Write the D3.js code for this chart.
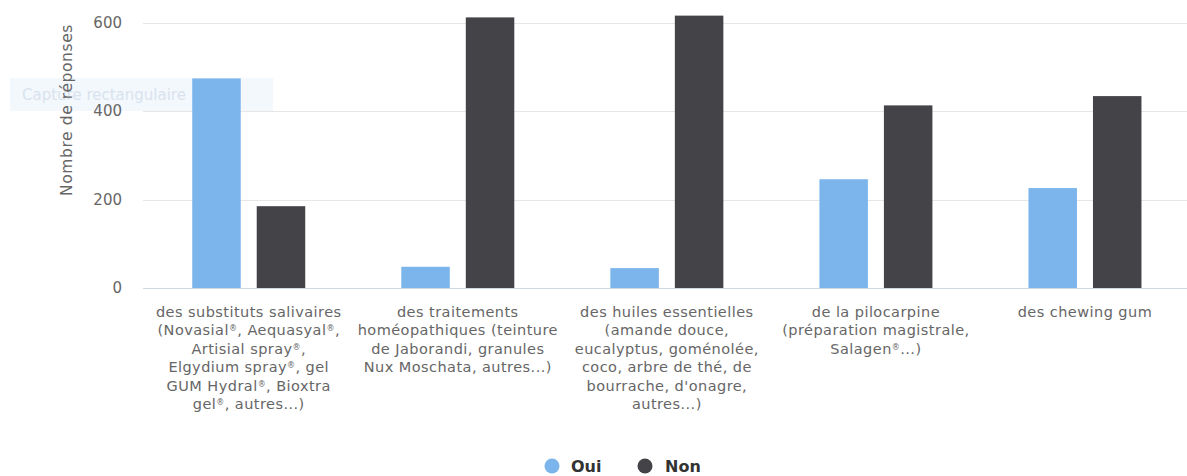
<!DOCTYPE html>
<meta charset="utf-8">
<script src="https://d3js.org/d3.v7.min.js"></script>
<style>
  body { margin: 0; background: #fff; }
  svg { font-family: "DejaVu Sans", Verdana, sans-serif; }
</style>
<div id="chart"></div>
<script>
// data
const categories = ["substituts", "homeo", "huiles", "pilocarpine", "chewing"];
const categoryLines = [
  ["des substituts salivaires", "(Novasial®, Aequasyal®,", "Artisial spray®,", "Elgydium spray®, gel", "GUM Hydral®, Bioxtra", "gel®, autres...)"],
  ["des traitements", "homéopathiques (teinture", "de Jaborandi, granules", "Nux Moschata, autres...)"],
  ["des huiles essentielles", "(amande douce,", "eucalyptus, goménolée,", "coco, arbre de thé, de", "bourrache, d'onagre,", "autres...)"],
  ["de la pilocarpine", "(préparation magistrale,", "Salagen®...)"],
  ["des chewing gum"]
];
const seriesNames = ["Oui", "Non"];
const seriesColors = ["#7cb5ec", "#434348"];
const ouiValues = [474, 48, 45, 246, 226];
const nonValues = [185, 612, 616, 413, 434];
const yTicks = [0, 200, 400, 600];
const yTitle = "Nombre de réponses";

const W = 1187, H = 476;
const LINE_H = 18.4; // spacing of wrapped category label lines

const svg = d3.select("#chart").append("svg")
  .attr("width", W)
  .attr("height", H);

const x0 = d3.scaleBand()
  .domain(categories)
  .range([144.2, 1189.5])
  .padding(0);

const bw = x0.bandwidth();
const x1 = d3.scaleBand()
  .domain(seriesNames)
  .range([bw / 2 - 56.5, bw / 2 + 56.5])
  .paddingInner(0.248);

const y = d3.scaleLinear()
  .domain([0, 600])
  .range([288, 22.7]);

// faint screenshot overlay left in the picture (sits behind the bars)
svg.append("rect")
  .attr("x", 10).attr("y", 78)
  .attr("width", 263).attr("height", 33)
  .attr("fill", "#f3f8fd");

svg.append("text")
  .attr("x", 22).attr("y", 100)
  .attr("fill", "#d9e3ed")
  .style("font-size", "15px")
  .text("Capture rectangulaire");

// gridlines
svg.append("g").selectAll("line")
  .data(yTicks.filter(d => d > 0))
  .enter().append("line")
  .attr("x1", 143).attr("x2", W)
  .attr("y1", d => Math.round(y(d)) + 0.5)
  .attr("y2", d => Math.round(y(d)) + 0.5)
  .attr("stroke", "#e6e6e6");

// y tick labels
svg.append("g").selectAll("text")
  .data(yTicks)
  .enter().append("text")
  .attr("x", 122)
  .attr("y", d => y(d) + 5)
  .attr("text-anchor", "end")
  .attr("fill", "#666")
  .style("font-size", "15px")
  .text(d => d);

// y title
svg.append("text")
  .attr("transform", "translate(72," + 110 + ")rotate(-90)")
  .attr("text-anchor", "middle")
  .attr("fill", "#666")
  .style("font-size", "15.5px")
  .style("letter-spacing", "0.6px")
  .text(yTitle);

// bars
const rows = categories.map((c, i) => ({ cat: c, vals: [ouiValues[i], nonValues[i]] }));

const groups = svg.append("g").selectAll("g")
  .data(rows)
  .enter().append("g")
  .attr("transform", d => "translate(" + x0(d.cat) + ",0)");

groups.selectAll("rect")
  .data(d => d.vals.map((v, j) => ({ name: seriesNames[j], value: v, color: seriesColors[j] })))
  .enter().append("rect")
  .attr("x", d => x1(d.name))
  .attr("width", x1.bandwidth())
  .attr("y", d => y(d.value))
  .attr("height", d => y(0) - y(d.value))
  .attr("fill", d => d.color);

// x axis line
svg.append("line")
  .attr("x1", 143).attr("x2", W)
  .attr("y1", Math.round(y(0)) + 0.5)
  .attr("y2", Math.round(y(0)) + 0.5)
  .attr("stroke", "#d3d9e3");

// category labels, one text per wrapped line, ® drawn small and raised
const labelLines = [];
categories.forEach((c, i) => {
  categoryLines[i].forEach((t, k) => labelLines.push({ cat: c, text: t, row: k }));
});

const lines = svg.append("g").selectAll("text")
  .data(labelLines)
  .enter().append("text")
  .attr("text-anchor", "middle")
  .attr("fill", "#666")
  .style("font-size", "14.5px")
  .style("letter-spacing", "0.45px")
  .attr("x", d => x0(d.cat) + bw / 2)
  .attr("y", d => 317 + d.row * LINE_H);

lines.each(function (d) {
  const parts = d.text.split("®");
  const el = d3.select(this);
  parts.forEach((p, k) => {
    if (k > 0) {
      el.append("tspan")
        .attr("dy", -4)
        .style("font-size", "8px")
        .text("®");
      el.append("tspan").attr("dy", 4).text(p);
    } else {
      el.append("tspan").text(p);
    }
  });
});

// legend
const legendX = [552, 645];
const legend = svg.append("g").selectAll("g")
  .data(seriesNames)
  .enter().append("g")
  .attr("transform", (d, i) => "translate(" + legendX[i] + ",466)");

legend.append("circle")
  .attr("r", 7.5)
  .attr("fill", (d, i) => seriesColors[i]);

legend.append("text")
  .attr("x", (d, i) => i === 0 ? 19 : 20)
  .attr("y", 6)
  .attr("fill", "#333")
  .style("font-size", "16px")
  .style("font-weight", "bold")
  .text(d => d);
</script>
